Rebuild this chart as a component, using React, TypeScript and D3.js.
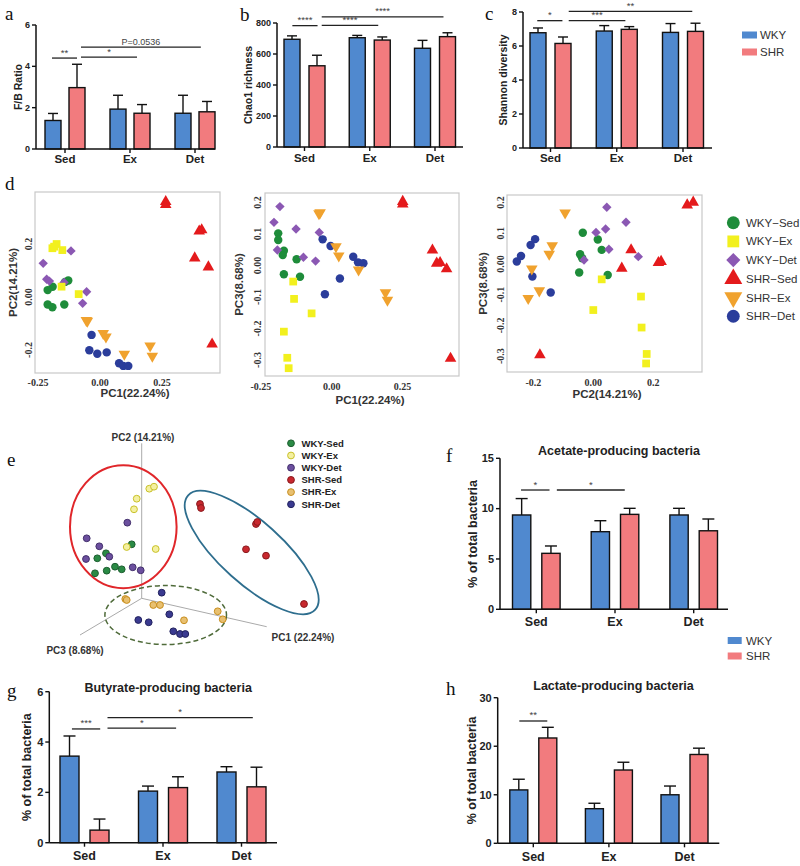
import * as d3 from "d3"

const categories = ["Sed", "Ex", "Det"]
const strains = ["WKY", "SHR"]
const strainColors = ["#5089cf", "#f27b7e"]

// a: F/B ratio (mean, SEM)
const fbWky = [1.38, 1.93, 1.73]
const fbWkySem = [0.34, 0.67, 0.87]
const fbShr = [2.97, 1.73, 1.8]
const fbShrSem = [1.13, 0.42, 0.5]
const fbTicks = [0, 2, 4, 6]

// b: Chao1 richness
const chaoWky = [695, 705, 637]
const chaoWkySem = [22, 15, 51]
const chaoShr = [524, 690, 712]
const chaoShrSem = [68, 20, 25]
const chaoTicks = [0, 200, 400, 600, 800]

// c: Shannon diversity
const shannonWky = [6.78, 6.88, 6.8]
const shannonWkySem = [0.28, 0.32, 0.52]
const shannonShr = [6.15, 6.98, 6.86]
const shannonShrSem = [0.38, 0.16, 0.48]
const shannonTicks = [0, 2, 4, 6, 8]

// f: acetate producers
const acetateWky = [9.37, 7.71, 9.37]
const acetateWkySem = [1.63, 1.09, 0.66]
const acetateShr = [5.56, 9.43, 7.8]
const acetateShrSem = [0.73, 0.6, 1.17]
const acetateTicks = [0, 5, 10, 15]

// g: butyrate producers
const butyrateWky = [3.44, 2.05, 2.81]
const butyrateWkySem = [0.8, 0.2, 0.21]
const butyrateShr = [0.5, 2.19, 2.22]
const butyrateShrSem = [0.44, 0.43, 0.78]
const butyrateTicks = [0, 2, 4, 6]

// h: lactate producers
const lactateWky = [11.0, 7.13, 10.0]
const lactateWkySem = [2.2, 1.12, 1.8]
const lactateShr = [21.7, 15.1, 18.3]
const lactateShrSem = [2.2, 1.6, 1.3]
const lactateTicks = [0, 10, 20, 30]

// significance bars: from/to in category index units, y in data units
type Sig = { from: number; to: number; y: number; label: string }
const fbSigs: Sig[] = [
  { from: -0.2, to: 0.185, y: 4.4, label: "**" },
  { from: 0.246, to: 1.108, y: 4.45, label: "*" },
  { from: 0.246, to: 2.09, y: 4.93, label: "P=0.0536" },
]
const chaoSigs: Sig[] = [
  { from: -0.186, to: 0.2, y: 783, label: "****" },
  { from: 0.264, to: 1.13, y: 785, label: "****" },
  { from: 0.264, to: 2.13, y: 839, label: "****" },
]
const shannonSigs: Sig[] = [
  { from: -0.2, to: 0.18, y: 7.49, label: "*" },
  { from: 0.275, to: 1.13, y: 7.49, label: "***" },
  { from: 0.275, to: 2.14, y: 8.04, label: "**" },
]
const acetateSigs: Sig[] = [
  { from: -0.194, to: 0.168, y: 11.85, label: "*" },
  { from: 0.261, to: 1.124, y: 11.85, label: "*" },
]
const butyrateSigs: Sig[] = [
  { from: -0.16, to: 0.2, y: 4.52, label: "***" },
  { from: 0.293, to: 1.167, y: 4.55, label: "*" },
  { from: 0.293, to: 2.144, y: 4.97, label: "*" },
]
const lactateSigs: Sig[] = [{ from: -0.185, to: 0.185, y: 25.2, label: "**" }]

// d: PCoA groups
const pcaGroups = ["WKY-Sed", "WKY-Ex", "WKY-Det", "SHR-Sed", "SHR-Ex", "SHR-Det"]
const pcaColors = ["#1e8c3a", "#f2f01e", "#8b58b3", "#e41a1c", "#f0a22e", "#2b3d9b"]
const pcaShapes = ["circle", "square", "diamond", "triangle", "triangleDown", "circle"]

// PC1 vs PC2
const p12WkySed = [[-0.128, 0.062], [-0.141, 0.057], [-0.191, 0.039], [-0.211, 0.026], [-0.211, -0.028], [-0.192, -0.039], [-0.144, -0.028]]
const p12WkyEx = [[-0.192, 0.184], [-0.175, 0.2], [-0.185, 0.19], [-0.152, 0.177], [-0.155, 0.039], [-0.086, 0.011]]
const p12WkyDet = [[-0.117, 0.174], [-0.229, 0.127], [-0.215, 0.067], [-0.204, 0.06], [-0.145, 0.055], [-0.054, 0.02], [-0.07, -0.024]]
const p12ShrSed = [[0.265, 0.36], [0.265, 0.348], [0.4, 0.248], [0.41, 0.253], [0.382, 0.147], [0.437, 0.113], [0.452, -0.178]]
const p12ShrEx = [[-0.051, -0.091], [-0.055, -0.088], [0.013, -0.137], [0.024, -0.15], [0.098, -0.215], [0.202, -0.184], [0.211, -0.223]]
const p12ShrDet = [[-0.034, -0.143], [-0.043, -0.201], [-0.011, -0.214], [0.027, -0.209], [0.077, -0.25], [0.094, -0.26], [0.114, -0.26]]

// PC1 vs PC3
const p13WkySed = [[-0.189, 0.102], [-0.189, 0.081], [-0.169, 0.047], [-0.173, 0.033], [-0.124, 0.02], [-0.169, -0.028], [-0.112, -0.036]]
const p13WkyEx = [[-0.136, -0.051], [-0.133, -0.106], [-0.071, -0.152], [-0.169, -0.21], [-0.157, -0.293], [-0.152, -0.326]]
const p13WkyDet = [[-0.183, 0.187], [-0.204, 0.137], [-0.126, 0.116], [-0.044, 0.105], [-0.192, 0.049], [-0.1, 0.026], [-0.057, 0.014]]
const p13ShrSed = [[0.251, 0.203], [0.251, 0.195], [0.356, 0.049], [0.371, 0.007], [0.383, 0.009], [0.406, -0.011], [0.42, -0.295]]
const p13ShrEx = [[-0.041, 0.168], [-0.045, 0.165], [0.015, 0.06], [0.025, 0.031], [0.095, -0.014], [0.19, -0.086], [0.197, -0.11]]
const p13ShrDet = [[-0.032, 0.083], [-0.004, 0.062], [0.076, 0.028], [0.093, 0.01], [0.112, 0.007], [0.029, -0.041], [-0.024, -0.091]]

// PC2 vs PC3
const p23WkySed = [[-0.035, 0.102], [0.015, 0.08], [0.028, 0.046], [-0.044, 0.032], [-0.037, 0.019], [-0.047, -0.028], [0.048, -0.036]]
const p23WkyEx = [[0.028, -0.05], [0.159, -0.106], [0, -0.15], [0.161, -0.207], [0.178, -0.293], [0.176, -0.324]]
const p23WkyDet = [[0.045, 0.185], [0.109, 0.136], [0.009, 0.103], [0.041, 0.114], [0.052, 0.048], [-0.031, 0.013], [0.15, 0.024]]
const p23ShrSed = [[0.313, 0.192], [0.333, 0.201], [0.126, 0.046], [0.217, 0.004], [0.226, 0.008], [0.095, -0.014], [-0.178, -0.296]]
const p23ShrEx = [[-0.094, 0.167], [-0.137, 0.06], [-0.147, 0.032], [-0.205, -0.016], [-0.18, -0.087], [-0.217, -0.112]]
const p23ShrDet = [[-0.255, 0.008], [-0.241, 0.026], [-0.209, 0.062], [-0.194, 0.081], [-0.203, -0.041], [-0.142, -0.093]]

// e: 3D PCA, projected onto the page plane (units of the projection)
const eColors = ["#2a8a45", "#f4f0a0", "#6b4f9e", "#c8282e", "#e8c070", "#3a3a90"]
const eStrokes = ["#1d5e30", "#c9c12a", "#43306c", "#8a1a1e", "#c88e1e", "#22225e"]
const eWkySed = [[-0.1, 0.54], [-0.357, 0.45], [-0.444, 0.4], [-0.267, 0.316], [-0.2, 0.29], [-0.35, 0.276], [-0.467, 0.25]]
const eWkyEx = [[0.076, 1.096], [0.123, 1.116], [-0.05, 0.996], [-0.077, 0.89], [-0.15, 0.513], [0.14, 0.493]]
const eWkyDet = [[-0.144, 0.756], [-0.55, 0.6], [-0.424, 0.52], [-0.324, 0.416], [-0.557, 0.393], [-0.09, 0.31], [-0.01, 0.28]]
const eShrSed = [[0.583, 0.943], [0.593, 0.903], [1.143, 0.743], [1.156, 0.763], [1.043, 0.49], [1.243, 0.426], [1.623, -0.057]]
const eShrEx = [[-0.164, -0.007], [-0.15, -0.017], [0.116, -0.067], [0.183, -0.067], [0.423, -0.22], [0.76, -0.13], [0.81, -0.21]]
const eShrDet = [[0.2, 0.056], [0.276, -0.16], [-0.034, -0.217], [0.07, -0.24], [0.316, -0.33], [0.383, -0.357], [0.436, -0.357]]
const eAxisEnds = [[1.25, -0.284], [0, 1.55], [-0.617, -0.367]]
const eAxisLabels = ["PC1 (22.24%)", "PC2 (14.21%)", "PC3 (8.68%)"]

const SANS = "'Liberation Sans', Arial, sans-serif"
const SERIF = "'Liberation Serif', 'Times New Roman', serif"

type BarProps = {
  left: number; right: number; top: number; bottom: number
  yMax: number; ticks: number[]; centers: [number, number]
  barW: number; gap: number
  wky: number[]; wkySem: number[]; shr: number[]; shrSem: number[]
  sigs: Sig[]; yLabel: string; yLabelX: number
  title?: string; titleY?: number; catY: number
  tickFont: number; catFont: number; labelFont: number; cap: number
}

function BarPanel(p: BarProps) {
  const y = d3.scaleLinear().domain([0, p.yMax]).range([p.bottom, p.top])
  const cx = d3.scaleLinear().domain([0, categories.length - 1]).range(p.centers)
  const half = p.barW + p.gap / 2
  const inner = d3.scaleBand().domain(strains).range([-half, half]).paddingInner(p.gap / (p.barW + p.gap))
  const series = [
    { vals: p.wky, sem: p.wkySem },
    { vals: p.shr, sem: p.shrSem },
  ]
  const midY = (p.top + p.bottom) / 2
  return (
    <g>
      {series.map((s, si) =>
        s.vals.map((v, i) => {
          const x0 = cx(i) + (inner(strains[si]) ?? 0)
          const xc = x0 + inner.bandwidth() / 2
          const ye = y(v + s.sem[i])
          return (
            <g key={si + "-" + i}>
              <line x1={xc} x2={xc} y1={y(v)} y2={ye} stroke="#111" strokeWidth={1.4} />
              <line x1={xc - p.cap / 2} x2={xc + p.cap / 2} y1={ye} y2={ye} stroke="#111" strokeWidth={1.4} />
              <rect x={x0} y={y(v)} width={inner.bandwidth()} height={y(0) - y(v)}
                fill={strainColors[si]} stroke="#111" strokeWidth={1.4} />
            </g>
          )
        })
      )}
      <line x1={p.left} x2={p.left} y1={p.top} y2={p.bottom} stroke="#111" strokeWidth={1.5} />
      <line x1={p.left} x2={p.right} y1={p.bottom} y2={p.bottom} stroke="#111" strokeWidth={1.5} />
      {p.ticks.map(t => (
        <g key={"t" + t}>
          <line x1={p.left - 4} x2={p.left} y1={y(t)} y2={y(t)} stroke="#111" strokeWidth={1.4} />
          <text x={p.left - 6} y={y(t)} dy="0.35em" textAnchor="end" fontSize={p.tickFont}
            fontWeight="bold" fontFamily={SANS} fill="#222">{t}</text>
        </g>
      ))}
      {categories.map((c, i) => (
        <g key={c}>
          <line x1={cx(i)} x2={cx(i)} y1={p.bottom} y2={p.bottom + 4} stroke="#111" strokeWidth={1.4} />
          <text x={cx(i)} y={p.catY} textAnchor="middle" fontSize={p.catFont} fontWeight="bold"
            fontFamily={SANS} fill="#222">{c}</text>
        </g>
      ))}
      {p.sigs.map((s, k) => (
        <g key={"s" + k}>
          <line x1={cx(s.from)} x2={cx(s.to)} y1={y(s.y)} y2={y(s.y)} stroke="#222" strokeWidth={1.3} />
          <text x={(cx(s.from) + cx(s.to)) / 2} y={y(s.y) - 2.5} textAnchor="middle"
            fontSize={s.label.startsWith("P") ? 9 : 9.5} fontFamily={SANS} fill="#444">{s.label}</text>
        </g>
      ))}
      <text transform={`translate(${p.yLabelX},${midY}) rotate(-90)`} textAnchor="middle" dy="0.35em"
        fontSize={p.labelFont} fontWeight="bold" fontFamily={SANS} fill="#222">{p.yLabel}</text>
      {p.title && (
        <text x={(p.left + p.right) / 2 + 5} y={p.titleY} textAnchor="middle" fontSize={12.5}
          fontWeight="bold" fontFamily={SANS} fill="#222">{p.title}</text>
      )}
    </g>
  )
}

function markPath(shape: string, size: number) {
  const t = shape === "circle" ? d3.symbolCircle : shape === "square" || shape === "diamond" ? d3.symbolSquare : d3.symbolTriangle
  return d3.symbol().type(t).size(size)() ?? ""
}
function markRotate(shape: string) {
  return shape === "diamond" ? 45 : shape === "triangleDown" ? 180 : 0
}
function markSize(shape: string) {
  return shape === "circle" ? 56 : shape === "square" ? 60 : shape === "diamond" ? 44 : 58
}

type ScatterProps = {
  box: [number, number, number, number]
  xDomain: [number, number]; xRange: [number, number]
  yDomain: [number, number]; yRange: [number, number]
  xTicks: number[]; xTickLabels: string[]; yTicks: number[]; yTickLabels: string[]
  data: number[][][]
  xTitle: string; yTitle: string
  xTickY: number; yTickX: number; xTitleX: number; xTitleY: number; yTitleX: number
}

function ScatterPanel(p: ScatterProps) {
  const x = d3.scaleLinear().domain(p.xDomain).range(p.xRange)
  const y = d3.scaleLinear().domain(p.yDomain).range(p.yRange)
  const [bx0, by0, bx1, by1] = p.box
  const order = [0, 2, 1, 5, 4, 3]
  return (
    <g>
      <rect x={bx0} y={by0} width={bx1 - bx0} height={by1 - by0} fill="#fff" stroke="#c8c8c8" strokeWidth={1.2} />
      {order.map(g =>
        p.data[g].map((d, i) => (
          <path key={g + "-" + i} d={markPath(pcaShapes[g], markSize(pcaShapes[g]))}
            transform={`translate(${x(d[0])},${y(d[1])}) rotate(${markRotate(pcaShapes[g])})`}
            fill={pcaColors[g]} />
        ))
      )}
      {p.xTicks.map((t, i) => (
        <text key={"x" + i} x={x(t)} y={p.xTickY} textAnchor="middle" fontSize={10} fontWeight="bold"
          fontFamily={SERIF} fill="#333">{p.xTickLabels[i]}</text>
      ))}
      {p.yTicks.map((t, i) => (
        <text key={"y" + i} transform={`translate(${p.yTickX},${y(t)}) rotate(-90)`} textAnchor="middle"
          dy="0.35em" fontSize={10} fontWeight="bold" fontFamily={SERIF} fill="#333">{p.yTickLabels[i]}</text>
      ))}
      <text x={p.xTitleX} y={p.xTitleY} textAnchor="middle" fontSize={11.5} fontWeight="bold"
        fontFamily={SANS} fill="#333">{p.xTitle}</text>
      <text transform={`translate(${p.yTitleX},${(by0 + by1) / 2}) rotate(-90)`} textAnchor="middle"
        dy="0.35em" fontSize={11.5} fontWeight="bold" fontFamily={SANS} fill="#333">{p.yTitle}</text>
    </g>
  )
}

function Pca3D() {
  const ex = d3.scaleLinear().domain([0, 1]).range([141.7, 241.7])
  const ey = d3.scaleLinear().domain([0, 1]).range([598.3, 498.3])
  const groups = [eWkySed, eWkyEx, eWkyDet, eShrSed, eShrEx, eShrDet]
  const labelPos = [[303, 641], [143, 441], [75, 654]]
  return (
    <g>
      {eAxisEnds.map((e, i) => (
        <line key={"ax" + i} x1={ex(0)} y1={ey(0)} x2={ex(e[0])} y2={ey(e[1])} stroke="#aaa" strokeWidth={1} />
      ))}
      {eAxisLabels.map((l, i) => (
        <text key={l} x={labelPos[i][0]} y={labelPos[i][1]} textAnchor="middle" fontSize={10}
          fontWeight="bold" fontFamily={SANS} fill="#333">{l}</text>
      ))}
      <ellipse cx={ex(-0.184)} cy={ey(0.716)} rx={53.3} ry={61.5} fill="none" stroke="#e0262a" strokeWidth={2} />
      <ellipse cx={0} cy={0} rx={85.5} ry={31} fill="none" stroke="#2e6e8e" strokeWidth={1.8}
        transform={`translate(${ex(1.1)},${ey(0.458)}) rotate(42)`} />
      <ellipse cx={ex(0.24)} cy={ey(-0.167)} rx={60.8} ry={29.5} fill="none" stroke="#4f6b3a"
        strokeWidth={1.5} strokeDasharray="5,3" />
      {groups.map((pts, g) =>
        pts.map((d, i) => (
          <circle key={g + "-" + i} cx={ex(d[0])} cy={ey(d[1])} r={3.4} fill={eColors[g]}
            stroke={eStrokes[g]} strokeWidth={1} />
        ))
      )}
      {pcaGroups.map((name, i) => (
        <g key={name}>
          <circle cx={291} cy={443.3 + i * 12.2} r={3.4} fill={eColors[i]} stroke={eStrokes[i]} strokeWidth={1} />
          <text x={301.5} y={443.3 + i * 12.2} dy="0.35em" fontSize={9.5} fontWeight="bold"
            fontFamily={SANS} fill="#222">{name}</text>
        </g>
      ))}
    </g>
  )
}

function Letter({ x, y, t }: { x: number; y: number; t: string }) {
  return <text x={x} y={y} fontSize={19} fontFamily={SERIF} fill="#111">{t}</text>
}

export default function App() {
  const common = { tickFont: 9, catFont: 11.5, labelFont: 10.5, cap: 10 }
  const big = { tickFont: 11, catFont: 12.5, labelFont: 12.5, cap: 12 }
  const pcaTicksY = [0.2, 0.1, 0, -0.1, -0.2, -0.3]
  const pcaTickLabelsY = ["0.2", "0.1", "0.00", "-0.1", "-0.2", "-0.3"]
  return (
    <svg width={800} height={866} style={{ position: "absolute", left: 0, top: 0, background: "#fff" }}>
      <rect width={800} height={866} fill="#fff" />
      <Letter x={5} y={20} t="a" />
      <Letter x={240} y={21} t="b" />
      <Letter x={485} y={20} t="c" />
      <Letter x={5} y={190} t="d" />
      <Letter x={7} y={466} t="e" />
      <Letter x={446} y={462} t="f" />
      <Letter x={7} y={697} t="g" />
      <Letter x={446} y={695} t="h" />

      <BarPanel left={36} right={215} top={25} bottom={149} yMax={6} ticks={fbTicks} centers={[65, 195]}
        barW={16} gap={8} wky={fbWky} wkySem={fbWkySem} shr={fbShr} shrSem={fbShrSem} sigs={fbSigs}
        yLabel="F/B Ratio" yLabelX={18} catY={163} {...common} />
      <BarPanel left={277} right={463} top={23} bottom={147} yMax={800} ticks={chaoTicks} centers={[304.5, 435]}
        barW={16} gap={9} wky={chaoWky} wkySem={chaoWkySem} shr={chaoShr} shrSem={chaoShrSem} sigs={chaoSigs}
        yLabel="Chao1 richness" yLabelX={248} catY={162} {...common} />
      <BarPanel left={523} right={712} top={12} bottom={148} yMax={8} ticks={shannonTicks} centers={[550.5, 683]}
        barW={16} gap={9} wky={shannonWky} wkySem={shannonWkySem} shr={shannonShr} shrSem={shannonShrSem}
        sigs={shannonSigs} yLabel="Shannon diversity" yLabelX={503} catY={162} {...common} />
      {strains.map((s, i) => (
        <g key={"lgc" + s}>
          <rect x={742} y={31.5 + i * 17} width={15} height={7} fill={strainColors[i]} />
          <text x={760} y={35 + i * 17} dy="0.35em" fontSize={11.5} fontFamily={SANS} fill="#333">{s}</text>
        </g>
      ))}

      <ScatterPanel box={[35, 192, 220, 373]} xDomain={[0, 1]} xRange={[100, 348]} yDomain={[0, 1]} yRange={[297, 32]}
        xTicks={[-0.25, 0, 0.25]} xTickLabels={["-0.25", "0.00", "0.25"]} yTicks={[0.2, 0, -0.2]}
        yTickLabels={["0.2", "0.00", "-0.2"]}
        data={[p12WkySed, p12WkyEx, p12WkyDet, p12ShrSed, p12ShrEx, p12ShrDet]}
        xTitle="PC1(22.24%)" yTitle="PC2(14.21%)" xTickY={386} yTickX={28} xTitleX={135} xTitleY={397} yTitleX={13} />
      <ScatterPanel box={[265, 193, 459, 376]} xDomain={[0, 1]} xRange={[331.7, 614.7]} yDomain={[0, 1]}
        yRange={[265.5, -49.5]} xTicks={[-0.25, 0, 0.25]} xTickLabels={["-0.25", "0.00", "0.25"]}
        yTicks={pcaTicksY} yTickLabels={pcaTickLabelsY}
        data={[p13WkySed, p13WkyEx, p13WkyDet, p13ShrSed, p13ShrEx, p13ShrDet]}
        xTitle="PC1(22.24%)" yTitle="PC3(8.68%)" xTickY={390} yTickX={257} xTitleX={370} xTitleY={404} yTitleX={239} />
      <ScatterPanel box={[507, 195, 702, 372]} xDomain={[0, 1]} xRange={[593.3, 893.3]} yDomain={[0, 1]}
        yRange={[264, -43]} xTicks={[-0.2, 0, 0.2]} xTickLabels={["-0.2", "0.00", "0.2"]}
        yTicks={pcaTicksY} yTickLabels={pcaTickLabelsY}
        data={[p23WkySed, p23WkyEx, p23WkyDet, p23ShrSed, p23ShrEx, p23ShrDet]}
        xTitle="PC2(14.21%)" yTitle="PC3(8.68%)" xTickY={386} yTickX={500} xTitleX={607} xTitleY={398} yTitleX={483} />
      {pcaGroups.map((name, i) => (
        <g key={"lgd" + name}>
          <path d={markPath(pcaShapes[i], pcaShapes[i] === "diamond" ? 100 : pcaShapes[i] === "circle" ? 130 : 140)}
            transform={`translate(733.3,${222.7 + i * 18.7}) rotate(${markRotate(pcaShapes[i])})`} fill={pcaColors[i]} />
          <text x={746} y={222.7 + i * 18.7} dy="0.35em" fontSize={11.5} fontFamily={SANS} fill="#333">
            {name.replace("-", "\u2212")}
          </text>
        </g>
      ))}

      <Pca3D />

      <BarPanel left={500} right={728} top={458.3} bottom={609.3} yMax={15} ticks={acetateTicks}
        centers={[536.3, 693.7]} barW={18.3} gap={11} wky={acetateWky} wkySem={acetateWkySem} shr={acetateShr}
        shrSem={acetateShrSem} sigs={acetateSigs} yLabel="% of total bacteria" yLabelX={473}
        title="Acetate-producing bacteria" titleY={455} catY={626} {...big} />
      {strains.map((s, i) => (
        <g key={"lgf" + s}>
          <rect x={727.7} y={637 + i * 15.5} width={14} height={7} fill={strainColors[i]} />
          <text x={746} y={640.7 + i * 15.5} dy="0.35em" fontSize={11.5} fontFamily={SANS} fill="#333">{s}</text>
        </g>
      ))}
      <BarPanel left={49.3} right={277} top={691.7} bottom={842.7} yMax={6} ticks={butyrateTicks}
        centers={[84.5, 241.5]} barW={19} gap={11} wky={butyrateWky} wkySem={butyrateWkySem} shr={butyrateShr}
        shrSem={butyrateShrSem} sigs={butyrateSigs} yLabel="% of total bacteria" yLabelX={27}
        title="Butyrate-producing bacteria" titleY={692} catY={860} {...big} />
      <BarPanel left={497.7} right={719.3} top={697.7} bottom={843.3} yMax={30} ticks={lactateTicks}
        centers={[533.3, 684.5]} barW={18} gap={11} wky={lactateWky} wkySem={lactateWkySem} shr={lactateShr}
        shrSem={lactateShrSem} sigs={lactateSigs} yLabel="% of total bacteria" yLabelX={472}
        title="Lactate-producing bacteria" titleY={689.5} catY={861} {...big} />
    </svg>
  )
}
